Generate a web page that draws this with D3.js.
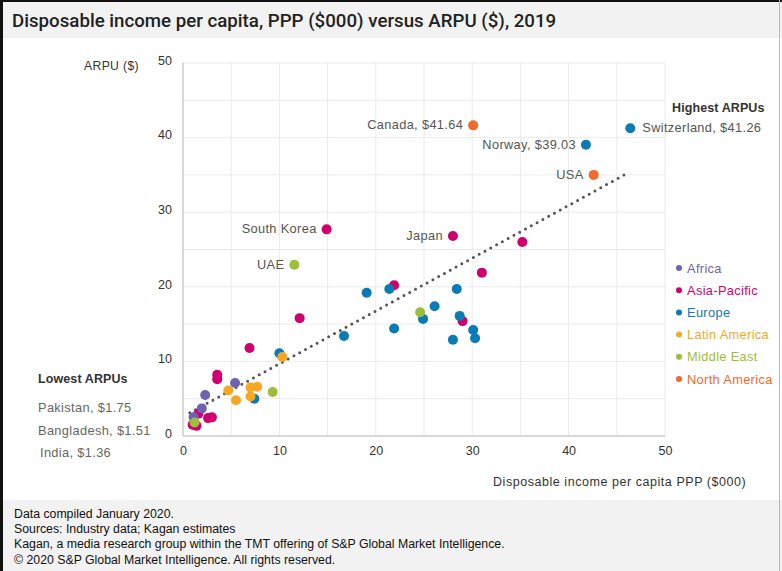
<!DOCTYPE html>
<html>
<head>
<meta charset="utf-8">
<script src="https://cdn.jsdelivr.net/npm/d3@7"></script>
<style>
  body { margin: 0; background: #fff; }
  svg { display: block; font-family: "Liberation Sans", Arial, sans-serif; }
</style>
</head>
<body>
<svg id="chart" width="782" height="571"></svg>
<script>
// data: [disposable income PPP ($000), ARPU ($)]
const africa = [[2.3, 5.5], [5.4, 7.1], [1.95, 3.7], [1.1, 2.5]];
const asiaPacific = [
  [14.9, 27.7], [28.0, 26.8], [35.2, 26.0], [31.0, 21.9], [21.9, 20.2],
  [29.0, 15.4], [12.1, 15.8], [6.9, 11.8], [3.55, 8.2], [3.55, 7.6],
  [1.6, 3.0], [2.6, 2.4], [3.0, 2.5], [1.2, 1.75], [1.0, 1.51], [1.4, 1.36]
];
const europe = [
  [46.4, 41.26], [41.8, 39.03], [19.05, 19.2], [21.4, 19.7], [28.4, 19.7],
  [26.1, 17.4], [24.9, 15.7], [28.7, 16.1], [21.9, 14.4], [30.1, 14.2],
  [30.3, 13.1], [28.0, 12.9], [16.7, 13.4], [10.0, 11.1], [7.4, 5.0]
];
const latinAmerica = [[10.3, 10.6], [4.7, 6.1], [7.0, 6.5], [7.7, 6.6], [5.5, 4.8], [7.0, 5.3]];
const middleEast = [[11.55, 22.95], [24.6, 16.6], [9.3, 5.9], [1.2, 1.8]];
const northAmerica = [[30.1, 41.64], [42.6, 35.0]];

const regionNames = ["Africa", "Asia-Pacific", "Europe", "Latin America", "Middle East", "North America"];
const regionColors = ["#6d62b4", "#d1006f", "#0a7bb6", "#f7a823", "#9ebd3b", "#f2692c"];

const trendLine = [[0.7, 3.1], [46.2, 35.3]];

const xTicks = [0, 10, 20, 30, 40, 50];
const yTicks = [0, 10, 20, 30, 40, 50];

// callouts: [text, x, y]
const callouts = [
  ["Canada, $41.64", 30.1, 41.64],
  ["Norway, $39.03", 41.8, 39.03],
  ["USA", 42.6, 35.0],
  ["South Korea", 14.9, 27.7],
  ["Japan", 28.0, 26.8],
  ["UAE", 11.55, 22.95]
];
const lowestLabels = ["Pakistan, $1.75", "Bangladesh, $1.51", "India, $1.36"];
const footer = [
  "Data compiled January 2020.",
  "Sources: Industry data; Kagan estimates",
  "Kagan, a media research group within the TMT offering of S&P Global Market Intelligence.",
  "\u00a9 2020 S&P Global Market Intelligence. All rights reserved."
];

const svg = d3.select("#chart");
const LS = "0.35px";

// frame / header / footer bands
svg.append("rect").attr("x", 0).attr("y", 0).attr("width", 782).attr("height", 38).attr("fill", "#f2f2f2");
svg.append("rect").attr("x", 0).attr("y", 500).attr("width", 782).attr("height", 71).attr("fill", "#f2f2f2");
svg.append("rect").attr("x", 0).attr("y", 0).attr("width", 782).attr("height", 2).attr("fill", "#111");
svg.append("rect").attr("x", 0).attr("y", 0).attr("width", 3).attr("height", 571).attr("fill", "#111");
svg.append("line").attr("x1", 779.5).attr("x2", 779.5).attr("y1", 0).attr("y2", 571)
  .attr("stroke", "#bbb").attr("stroke-width", 1);

svg.append("text").attr("x", 12).attr("y", 27)
  .style("font-family", "Roboto, sans-serif").style("font-weight", 500)
  .style("font-size", "18.7px").attr("fill", "#222")
  .text("Disposable income per capita, PPP ($000) versus ARPU ($), 2019");

const x = d3.scaleLinear().domain([0, 50]).range([183, 665]);
const y = d3.scaleLinear().domain([0, 50]).range([436, 63]);

// grid every 5
const grid = d3.range(0, 51, 5);
svg.append("g").selectAll("line").data(grid).join("line")
  .attr("x1", d => x(d)).attr("x2", d => x(d)).attr("y1", y(0)).attr("y2", y(50))
  .attr("stroke", "#ebebeb");
svg.append("g").selectAll("line").data(grid).join("line")
  .attr("x1", x(0)).attr("x2", x(50)).attr("y1", d => y(d)).attr("y2", d => y(d))
  .attr("stroke", "#ebebeb");
svg.append("line").attr("x1", x(0)).attr("x2", x(0)).attr("y1", y(0)).attr("y2", y(50)).attr("stroke", "#bdbdbd");
svg.append("line").attr("x1", x(0)).attr("x2", x(50)).attr("y1", y(0)).attr("y2", y(0)).attr("stroke", "#bdbdbd");

// axes
const xAxis = svg.append("g").attr("transform", `translate(0,${y(0)})`)
  .call(d3.axisBottom(x).tickValues(xTicks).tickSize(0).tickPadding(10));
const yAxis = svg.append("g").attr("transform", `translate(172,0)`)
  .call(d3.axisLeft(y).tickValues(yTicks).tickSize(0).tickPadding(0));
[xAxis, yAxis].forEach(a => {
  a.select(".domain").remove();
  a.selectAll("text").style("font-size", "12.5px").attr("fill", "#333")
    .style("font-family", "Liberation Sans, Arial, sans-serif");
});
yAxis.selectAll("text").attr("dy", "0.1em");

svg.append("text").attr("x", 84).attr("y", 70).style("font-size", "12.2px")
  .style("letter-spacing", LS).attr("fill", "#333").text("ARPU ($)");
svg.append("text").attr("x", 493).attr("y", 486).style("font-size", "12.5px")
  .style("letter-spacing", "0.55px").attr("fill", "#333")
  .text("Disposable income per capita PPP ($000)");

// trend line
svg.append("path").datum(trendLine)
  .attr("d", d3.line().x(d => x(d[0])).y(d => y(d[1])))
  .attr("fill", "none").attr("stroke", "#555").attr("stroke-width", 3)
  .attr("stroke-linecap", "round").attr("stroke-dasharray", "0 6.6");

// points
const series = [asiaPacific, africa, europe, latinAmerica, middleEast, northAmerica];
const order = [1, 0, 2, 3, 4, 5];
series.forEach((pts, i) => {
  svg.append("g").selectAll("circle").data(pts).join("circle")
    .attr("cx", d => x(d[0])).attr("cy", d => y(d[1])).attr("r", 5)
    .attr("fill", regionColors[order[i]]);
});

// callouts
svg.append("g").selectAll("text").data(callouts).join("text")
  .attr("x", d => x(d[1]) - 10).attr("y", d => y(d[2]) + 4)
  .attr("text-anchor", "end").style("font-size", "12.8px").style("letter-spacing", LS)
  .attr("fill", "#555").text(d => d[0]);
svg.append("text").attr("x", x(46.4) + 12).attr("y", y(41.26) + 4)
  .style("font-size", "12.8px").style("letter-spacing", LS)
  .attr("fill", "#555").text("Switzerland, $41.26");
svg.append("text").attr("x", 672).attr("y", 112).style("font-size", "12.5px")
  .style("font-weight", 600).style("letter-spacing", "0.1px").attr("fill", "#333").text("Highest ARPUs");

svg.append("text").attr("x", 38).attr("y", 383).style("font-size", "12.5px")
  .style("font-weight", 600).style("letter-spacing", "0.1px").attr("fill", "#333").text("Lowest ARPUs");
svg.append("g").selectAll("text").data(lowestLabels).join("text")
  .attr("x", (d, i) => i === 2 ? 40 : 38).attr("y", (d, i) => 412 + i * 22.5)
  .style("font-size", "12.8px").style("letter-spacing", LS).attr("fill", "#666").text(d => d);

// legend
const legend = svg.append("g").attr("transform", "translate(679,268)");
const item = legend.selectAll("g").data(regionNames).join("g")
  .attr("transform", (d, i) => `translate(0,${i * 22.2})`);
item.append("circle").attr("r", 3).attr("fill", (d, i) => regionColors[i]);
item.append("text").attr("x", 8).attr("y", 4.5).style("font-size", "12.8px")
  .style("letter-spacing", LS).attr("fill", (d, i) => regionColors[i]).text(d => d);

// footer
svg.append("g").selectAll("text").data(footer).join("text")
  .attr("x", 14).attr("y", (d, i) => 518 + i * 15.2)
  .style("font-size", "12.3px").attr("fill", "#111").text(d => d);
</script>
</body>
</html>
